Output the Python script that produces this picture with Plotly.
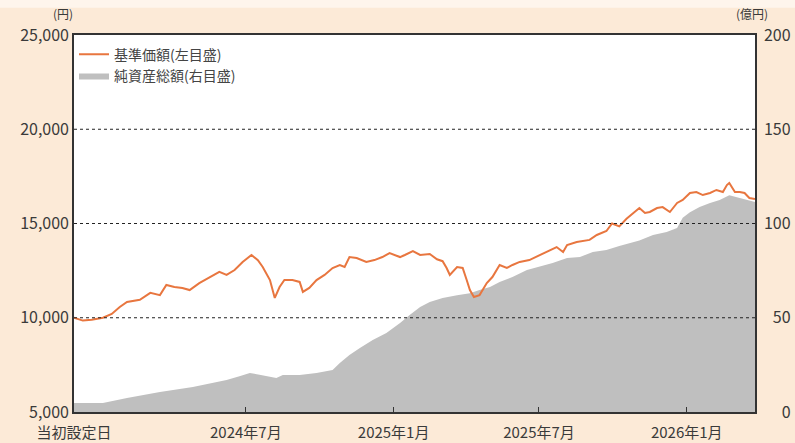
import plotly.graph_objects as go

# 基準価額 (left axis, 円)
nav_dates = [
    "2023-11-30", "2023-12-11", "2023-12-22", "2024-01-05", "2024-01-16", "2024-01-26",
    "2024-02-04", "2024-02-20", "2024-03-04", "2024-03-16", "2024-03-24", "2024-04-03",
    "2024-04-13", "2024-04-22", "2024-05-04", "2024-05-17", "2024-05-29", "2024-06-07",
    "2024-06-17", "2024-06-27", "2024-07-08", "2024-07-16", "2024-07-22", "2024-07-31",
    "2024-08-06", "2024-08-12", "2024-08-18", "2024-08-28", "2024-09-06", "2024-09-10",
    "2024-09-18", "2024-09-27", "2024-10-07", "2024-10-17", "2024-10-26", "2024-11-01",
    "2024-11-07", "2024-11-16", "2024-11-28", "2024-12-08", "2024-12-18", "2024-12-27",
    "2025-01-09", "2025-01-15", "2025-01-25", "2025-02-03", "2025-02-15", "2025-02-24",
    "2025-03-03", "2025-03-08", "2025-03-12", "2025-03-21", "2025-03-28", "2025-04-02",
    "2025-04-06", "2025-04-11", "2025-04-18", "2025-04-27", "2025-05-04", "2025-05-13",
    "2025-05-22", "2025-05-29", "2025-06-07", "2025-06-19", "2025-07-02", "2025-07-14",
    "2025-07-23", "2025-07-31", "2025-08-05", "2025-08-17", "2025-09-02", "2025-09-11",
    "2025-09-23", "2025-09-30", "2025-10-09", "2025-10-18", "2025-10-26", "2025-11-03",
    "2025-11-10", "2025-11-16", "2025-11-25", "2025-12-02", "2025-12-11", "2025-12-20",
    "2025-12-27", "2026-01-05", "2026-01-13", "2026-01-21", "2026-01-30", "2026-02-07",
    "2026-02-15", "2026-02-20", "2026-02-23", "2026-03-02", "2026-03-08", "2026-03-14",
    "2026-03-20", "2026-03-27",
]
nav_values = [
    10000, 9850, 9900, 10000, 10200, 10570,
    10840, 10950, 11320, 11200, 11740, 11630,
    11580, 11470, 11840, 12160, 12430, 12270,
    12530, 12960, 13330, 13050, 12690, 12000,
    11050, 11630, 12000, 12000, 11900, 11370,
    11580, 12000, 12270, 12640, 12800, 12690,
    13220, 13170, 12960, 13060, 13220, 13430,
    13220, 13330, 13540, 13330, 13380, 13100,
    13000, 12640, 12270, 12690, 12640, 12000,
    11470, 11100, 11200, 11840, 12160, 12800,
    12640, 12800, 12960, 13060, 13330, 13590,
    13750, 13490, 13860, 14020, 14130, 14390,
    14600, 15000, 14850, 15250, 15560, 15820,
    15560, 15610, 15820, 15870, 15610, 16090,
    16250, 16620, 16670, 16510, 16620, 16780,
    16670, 17040, 17150, 16670, 16670, 16620,
    16350, 16300,
]

# 純資産総額 (right axis, 億円)
aum_dates = [
    "2023-11-30", "2024-01-05", "2024-02-04", "2024-03-16", "2024-04-26", "2024-06-07",
    "2024-06-23", "2024-07-06", "2024-07-18", "2024-07-31", "2024-08-08", "2024-08-16",
    "2024-09-06", "2024-09-27", "2024-10-17", "2024-10-26", "2024-11-07", "2024-11-20",
    "2024-12-06", "2024-12-23", "2025-01-09", "2025-01-21", "2025-02-03", "2025-02-15",
    "2025-03-03", "2025-03-21", "2025-04-06", "2025-04-18", "2025-05-01", "2025-05-13",
    "2025-05-29", "2025-06-16", "2025-07-02", "2025-07-18", "2025-08-05", "2025-08-21",
    "2025-09-06", "2025-09-23", "2025-10-09", "2025-10-22", "2025-11-03", "2025-11-20",
    "2025-12-07", "2025-12-20", "2025-12-27", "2026-01-05", "2026-01-17", "2026-01-30",
    "2026-02-11", "2026-02-23", "2026-03-04", "2026-03-14", "2026-03-27",
]
aum_values = [
    4.8, 4.8, 7.4, 10.6, 13.3, 17.0,
    19.0, 20.7, 19.8, 18.6, 18.0, 19.6,
    19.6, 20.7, 22.3, 26.0, 30.2, 34.0,
    38.2, 41.9, 47.2, 51.5, 55.7, 58.4,
    60.5, 62.0, 63.0, 64.7, 66.3, 69.0,
    71.6, 75.3, 77.0, 79.0, 81.7, 82.2,
    84.9, 86.0, 88.0, 89.7, 91.0, 93.9,
    95.5, 97.6, 103.0, 106.0, 108.8, 110.9,
    112.5, 115.0, 114.0, 112.5, 111.4,
]

x_tick_vals = ["2023-11-30", "2024-07-01", "2025-01-01", "2025-07-01", "2026-01-01"]
x_tick_text = ["当初設定日", "2024年7月", "2025年1月", "2025年7月", "2026年1月"]
left_ticks = [5000, 10000, 15000, 20000, 25000]
left_tick_text = ["5,000", "10,000", "15,000", "20,000", "25,000"]
right_ticks = [0, 50, 100, 150, 200]
# right labels padded with figure spaces so they line up on the right
right_tick_text = ["\u2007\u20070", "\u200750", "100", "150", "200"]
grid_values = [10000, 15000, 20000]

FONT = "Noto Sans CJK JP"
BG = "#FCEAD7"
TXT = "#3a3a3a"

fig = go.Figure()
fig.add_trace(go.Scatter(
    x=aum_dates, y=aum_values, name="純資産総額(右目盛)",
    mode="lines", line=dict(width=0, color="#BFBFBF"),
    fill="tozeroy", fillcolor="#BFBFBF", yaxis="y", legendrank=2,
))
fig.add_trace(go.Scatter(
    x=nav_dates, y=nav_values, name="基準価額(左目盛)",
    mode="lines", line=dict(width=2, color="#E8763F"),
    yaxis="y2", legendrank=1,
))

for g in grid_values:
    fig.add_shape(type="line", xref="paper", x0=0, x1=1, yref="y2", y0=g, y1=g,
                  line=dict(color="#222222", width=1, dash="dot"), layer="above")

# lighter strip at the very top of the page
fig.add_shape(type="rect", xref="paper", yref="paper", x0=-0.2, x1=1.2,
              y0=1.072, y1=1.2, fillcolor="#FEF5EC", line=dict(width=0), layer="below")

fig.update_layout(
    width=795, height=443,
    margin=dict(l=74, r=40, t=35, b=31),
    paper_bgcolor=BG, plot_bgcolor="white",
    font=dict(family=FONT, size=13, color=TXT),
    showlegend=True,
    legend=dict(x=0.0, y=0.99, xanchor="left", yanchor="top",
                bgcolor="rgba(0,0,0,0)", font=dict(size=14, color="#444444"),
                itemwidth=30, tracegroupgap=0),
    xaxis=dict(
        type="date", range=["2023-11-30", "2026-03-27"],
        tickvals=x_tick_vals, ticktext=x_tick_text,
        ticks="inside", ticklen=5, tickcolor="#333333",
        showgrid=False, showline=True, linecolor="#333333", linewidth=1.5, mirror=True,
        tickfont=dict(size=15), zeroline=False, automargin=False,
        ticklabelstandoff=6,
    ),
    yaxis=dict(
        side="right", range=[0, 200], tickvals=right_ticks, ticktext=right_tick_text,
        showgrid=False, zeroline=False, ticks="", tickfont=dict(size=16),
        showline=True, linecolor="#333333", linewidth=1.5, mirror=True,
        automargin=False, ticklabelstandoff=4,
    ),
    yaxis2=dict(
        overlaying="y", side="left", range=[5000, 25000],
        tickvals=left_ticks, ticktext=left_tick_text,
        showgrid=False, zeroline=False, ticks="", tickfont=dict(size=16),
        showline=False, automargin=False, ticklabelstandoff=4,
    ),
    annotations=[
        dict(text="(円)", xref="paper", yref="paper", x=0, y=1, xshift=-23, yshift=22,
             yanchor="middle", showarrow=False, font=dict(size=12, color=TXT)),
        dict(text="(億円)", xref="paper", yref="paper", x=1, y=1, xshift=15, yshift=22,
             yanchor="middle", showarrow=False, font=dict(size=12, color=TXT)),
    ],
)

fig.write_html("out.html", config={"displayModeBar": False},
               post_script="document.body.style.margin='0';")
